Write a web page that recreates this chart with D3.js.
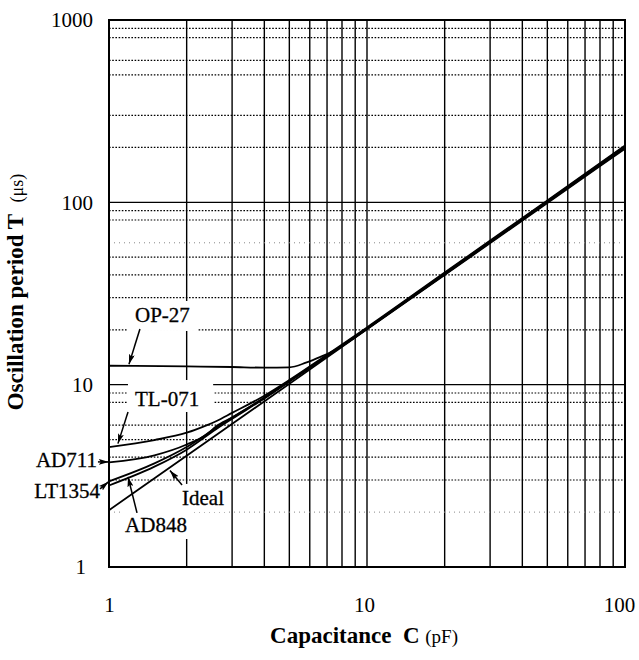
<!DOCTYPE html>
<html><head><meta charset="utf-8">
<script src="https://cdn.jsdelivr.net/npm/d3@7"></script>
<style>
body{margin:0;background:#fff}
svg text{font-family:"Liberation Serif","Times New Roman",serif;fill:#000}
</style>
</head><body>
<svg id="chart" width="639" height="660"></svg>
<script>
// ---- data ----
const xTickValues = [1, 10, 100];
const yTickValues = [1, 10, 100, 1000];
const xGridValues = [2,3,4,5,6,7,8,9,10,20,30,40,50,60,70,80,90];
const yGridMajor = [10, 100];
const yGridMinor = [3,4,5,6,8,9,20,30,40,50,80,90,200,300,500,600,800,900];
const yGridFaint = [2, 60];

const idealT  = [[1,2.05],[10,20.1],[100,197]];
const op27T   = [[1,12.7],[2,12.6],[3,12.5],[4,12.4],[5,12.45],[5.8,13.2],[6.6,14.2],[7.4,15.3],[8,16.3],[9,18.2],[10,20.3],[20,40.5],[50,101],[100,201]];
const tl071T  = [[1,4.55],[1.5,4.97],[2,5.45],[2.4,6.0],[2.6,6.3],[3,7.0],[4,8.7],[5,10.6],[7,14.6],[10,20.6],[20,41.2],[50,102.5],[100,205]];
const ad711T  = [[1,3.75],[1.5,4.1],[2,4.7],[2.4,5.35],[2.6,5.9],[3,6.6],[4,8.5],[5,10.5],[7,14.4],[10,20.4],[20,40.8],[50,101.5],[100,203]];
const lt1354T = [[1,2.8],[1.5,3.55],[2,4.4],[2.6,5.7],[3,6.5],[4,8.4],[5,10.4],[7,14.3],[10,20.2],[20,40.2],[50,100.2],[100,199]];
const ad848T  = [[1,2.95],[1.5,3.7],[2,4.55],[2.6,5.8],[3,6.6],[4,8.45],[5,10.45],[7,14.35],[10,20.3],[20,40.4],[50,100.8],[100,200.5]];

const seriesNames = ["Ideal","OP-27","TL-071","AD711","LT1354","AD848"];
const seriesData = [idealT, op27T, tl071T, ad711T, lt1354T, ad848T];

// ---- layout ----
const svg = d3.select("#chart");
const L = 109, R = 625, T = 20, B = 567;
const x = d3.scaleLog().domain([1, 100]).range([L, R]);
const y = d3.scaleLog().domain([1, 1000]).range([B, T]);

// annotations (text anchor point, arrow tail, arrow tip) in data coordinates
const annotations = [
  {name:"OP-27",  text:[1.261,22.07], anchor:"start", tail:[1.318,20.2], tip:[1.195,12.95], pad:[8,4,8,6]},
  {name:"TL-071", text:[1.261,7.64],  anchor:"start", tail:[1.185,7.08], tip:[1.083,4.75], pad:[7,9,14,3]},
  {name:"AD711",  text:[0.898,3.54],  anchor:"end",   tail:[0.906,3.77], tip:[0.998,3.77], pad:[2,2,2,2]},
  {name:"LT1354", text:[0.923,2.39],  anchor:"end",   tail:[0.923,2.68], tip:[0.995,2.93], pad:[2,2,2,2]},
  {name:"AD848",  text:[1.154,1.556], anchor:"start", tail:[1.284,1.98], tip:[1.185,3.12], pad:[5,5,5,4]},
  {name:"Ideal",  text:[1.919,2.19],  anchor:"start", tail:[1.919,2.82], tip:[1.723,3.38], pad:[4,4,4,4]}
];

// grid
const g = svg.append("g");
g.selectAll(".vg").data(xGridValues).join("line")
  .attr("x1", d => x(d)).attr("x2", d => x(d)).attr("y1", T).attr("y2", B)
  .attr("stroke", "#000").attr("stroke-width", 1.4);
g.selectAll(".hmin").data(yGridMinor).join("line")
  .attr("x1", L).attr("x2", R).attr("y1", d => y(d)).attr("y2", d => y(d))
  .attr("stroke", "#000").attr("stroke-width", 1.2).attr("stroke-dasharray", "1.6,1.6");
g.selectAll(".hfaint").data(yGridFaint).join("line")
  .attr("x1", L).attr("x2", R).attr("y1", d => y(d)).attr("y2", d => y(d))
  .attr("stroke", "#888").attr("stroke-width", 1).attr("stroke-dasharray", "1,4");
g.selectAll(".hmaj").data(yGridMajor).join("line")
  .attr("x1", L).attr("x2", R).attr("y1", d => y(d)).attr("y2", d => y(d))
  .attr("stroke", "#000").attr("stroke-width", 1.4);

// label texts (measure, then white boxes)
const labelG = svg.append("g");
const texts = annotations.map(a => labelG.append("text")
  .attr("x", x(a.text[0])).attr("y", y(a.text[1]))
  .attr("text-anchor", a.anchor)
  .attr("font-size", 21)
  .attr("stroke", "#000").attr("stroke-width", 0.3)
  .text(a.name));
const boxG = svg.insert("g", () => labelG.node());
annotations.forEach((a, i) => {
  const bb = texts[i].node().getBBox();
  const [pl, pt, pr, pb] = a.pad;
  boxG.append("rect")
    .attr("x", bb.x - pl).attr("y", bb.y - pt + 2)
    .attr("width", bb.width + pl + pr).attr("height", bb.height + pt + pb - 4)
    .attr("fill", "#fff");
});

// frame
svg.append("rect").attr("x", L).attr("y", T).attr("width", R - L).attr("height", B - T)
  .attr("fill", "none").attr("stroke", "#000").attr("stroke-width", 2);

// curves
const line = d3.line().x(d => x(d[0])).y(d => y(d[1])).curve(d3.curveMonotoneX);
svg.append("g").selectAll("path").data(seriesData).join("path")
  .attr("d", line).attr("fill", "none").attr("stroke", "#000")
  .attr("stroke-width", 1.8).attr("stroke-linejoin", "round");

// arrows
const defs = svg.append("defs");
defs.append("marker").attr("id", "ah").attr("viewBox", "0 0 10 6")
  .attr("refX", 10).attr("refY", 3).attr("markerWidth", 10).attr("markerHeight", 6)
  .attr("markerUnits", "userSpaceOnUse").attr("orient", "auto")
  .append("path").attr("d", "M0,0 L10,3 L0,6 L2,3 z").attr("fill", "#000");
svg.append("g").selectAll("line").data(annotations).join("line")
  .attr("x1", d => x(d.tail[0])).attr("y1", d => y(d.tail[1]))
  .attr("x2", d => x(d.tip[0])).attr("y2", d => y(d.tip[1]))
  .attr("stroke", "#000").attr("stroke-width", 1.5).attr("marker-end", "url(#ah)");
labelG.raise();

// axes labels
const yAxis = svg.append("g").attr("transform", `translate(${L},0)`)
  .call(d3.axisLeft(y).tickValues(yTickValues).tickFormat(d3.format("d")).tickSize(0).tickPadding(16));
yAxis.select(".domain").remove();
yAxis.selectAll("text").attr("font-size", 21).attr("font-family", "Liberation Serif").attr("fill", "#000")
  .attr("dx", d => d === 1 ? -7 : 0);

const xAxis = svg.append("g").attr("transform", `translate(0,${B})`)
  .call(d3.axisBottom(x).tickValues(xTickValues).tickFormat(d3.format("d")).tickSize(0).tickPadding(30));
xAxis.select(".domain").remove();
xAxis.selectAll("text").attr("font-size", 21).attr("font-family", "Liberation Serif").attr("fill", "#000")
  .attr("dx", d => d === 100 ? -6 : (d === 10 ? -3 : 0));

// titles
const xt = svg.append("text").attr("x", 364).attr("y", 643).attr("text-anchor", "middle");
xt.append("tspan").attr("font-size", 23).attr("font-weight", "bold").text("Capacitance\u00a0\u00a0C\u00a0");
xt.append("tspan").attr("font-size", 19).text("(pF)");

const yt = svg.append("text").attr("transform", "translate(23,292) rotate(-90)").attr("text-anchor", "middle");
yt.append("tspan").attr("font-size", 23).attr("font-weight", "bold").text("Oscillation period T\u00a0\u00a0");
yt.append("tspan").attr("font-size", 18).text("(μs)");
</script>
</body></html>
